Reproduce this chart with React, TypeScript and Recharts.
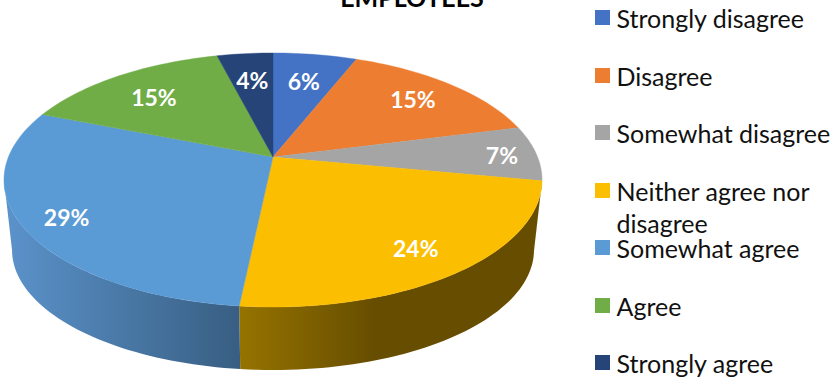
import React from 'react';
import { PieChart, Pie, Cell, Legend } from 'recharts';

const categories = ['Strongly disagree', 'Disagree', 'Somewhat disagree', 'Neither agree nor disagree', 'Somewhat agree', 'Agree', 'Strongly agree'];
const shares = [6, 15, 7, 23.67, 29.33, 15, 4];
const colors = ['#4472C4', '#ED7D31', '#A5A5A5', '#FBBE00', '#5B9BD5', '#70AD47', '#264478'];
const wallStops = [
  ['#2F5597', '#2F5597'],
  ['#A0551F', '#A0551F'],
  ['#6E6E6E', '#6E6E6E'],
  ['#967300', '#664D00'],
  ['#5B93CB', '#385E82'],
  ['#4A7530', '#4A7530'],
  ['#19305A', '#19305A'],
];
const wallMidOffset = ['100%', '100%', '100%', '45%', '100%', '100%', '100%'];
const labelRadii = [0.7, 0.77, 0.87, 0.8, 0.84, 0.75, 0.7];
const labelDy = [0, 0, 2, 3, 3, 4, 0];
const rows = categories.map((name, i) => ({ name, value: shares[i], label: `${Math.round(shares[i])}%` }));

const W = 832;
const H = 377;
const CX = 273;
const CY = 157;
const R = 270;
const TILT_K = 0.181;
const SCALE_X = 0.98;
const SCALE_Y = 0.455;
const WALL_SX = 0.97;
const WALL_SY = 0.945;
const WALL_BASE = 250;
const WIDE_Y = 180;
const SILHOUETTE = (Math.acos(-TILT_K) * 180) / Math.PI;

function project(deg: number, r = 1, cx = CX, cy = CY) {
  const t = (deg * Math.PI) / 180;
  const u = Math.sin(t) * r;
  const v = -Math.cos(t) * r;
  const w = 1 - TILT_K * v;
  return { x: cx + (R * SCALE_X * u) / w, y: cy + (R * SCALE_Y * v) / w };
}

function lower(p: { x: number; y: number }) {
  return { x: CX + (p.x - CX) * WALL_SX, y: WALL_BASE + (p.y - WIDE_Y) * WALL_SY };
}

function rimAngles(a: number, b: number) {
  const n = Math.max(2, Math.ceil(Math.abs(b - a) / 1.5));
  return Array.from({ length: n + 1 }, (_, i) => a + ((b - a) * i) / n);
}

const toPath = (pts: { x: number; y: number }[]) =>
  pts.map((p, i) => `${i ? 'L' : 'M'}${p.x.toFixed(2)},${p.y.toFixed(2)}`).join(' ') + ' Z';

function TopSlice(props: any) {
  const a = 90 - props.startAngle;
  const b = 90 - props.endAngle;
  const pts = [{ x: props.cx, y: props.cy }, ...rimAngles(a, b).map((d) => project(d, 1, props.cx, props.cy))];
  return <path d={toPath(pts)} fill={props.fill} stroke={props.fill} strokeWidth={0.4} />;
}

function WallSlice(props: any) {
  const a = Math.max(90 - props.startAngle, SILHOUETTE);
  const b = Math.min(90 - props.endAngle, 360 - SILHOUETTE);
  if (b <= a) return <g />;
  const top = rimAngles(a, b).map((d) => project(d, 1, props.cx, props.cy));
  const pts = [...top, ...top.slice().reverse().map(lower)];
  return <path d={toPath(pts)} fill={`url(#wall-${props.index})`} />;
}

function SliceLabel(props: any) {
  const i = props.index;
  const a = 90 - props.midAngle;
  const p = project(a, labelRadii[i], props.cx, props.cy);
  return (
    <text x={p.x} y={p.y + labelDy[i]} dy="0.35em" textAnchor="middle" fill="#FFFFFF" fontFamily="Lato" fontWeight={700} fontSize={23}>
      {rows[i].label}
    </text>
  );
}

function LegendList(props: any) {
  const items = (props.payload || []).filter((it: any) => colors.includes(it.color));
  return (
    <div style={{ position: 'relative', width: 236, height: H, fontFamily: 'Lato', fontSize: 25, color: '#111', lineHeight: '32px' }}>
      {items.map((it: any, i: number) => (
        <div key={it.value} style={{ position: 'absolute', left: 0, top: 2 + i * 57.5, width: 236 }}>
          <span style={{ position: 'absolute', left: 0, top: 8, width: 15, height: 15, background: it.color }} />
          <span style={{ position: 'absolute', left: 21.5, top: 0, width: 214, display: 'block' }}>{it.value}</span>
        </div>
      ))}
    </div>
  );
}

export default function App() {
  return (
    <div style={{ position: 'absolute', left: 0, top: 0, width: W, height: H, overflow: 'hidden', background: '#fff' }}>
      <PieChart width={W} height={H} margin={{ top: 0, right: 0, bottom: 0, left: 0 }}>
        <defs>
          {wallStops.map((s, i) => (
            <linearGradient key={i} id={`wall-${i}`} x1="0" y1="0" x2="1" y2="0">
              <stop offset="0%" stopColor={s[0]} />
              <stop offset={wallMidOffset[i]} stopColor={s[1]} />
            </linearGradient>
          ))}
        </defs>
        <text x={412} y={7} textAnchor="middle" fontFamily="Lato" fontWeight={700} fontSize={25} fill="#000">EMPLOYEES</text>
        <Pie
          data={rows} dataKey="value" nameKey="name" cx={CX} cy={CY} outerRadius={R}
          startAngle={90} endAngle={-270} stroke="none" isAnimationActive={false}
          shape={WallSlice} legendType="none"
        />
        <Pie
          data={rows} dataKey="value" nameKey="name" cx={CX} cy={CY} outerRadius={R}
          startAngle={90} endAngle={-270} stroke="none" isAnimationActive={false}
          shape={TopSlice} labelLine={false} label={SliceLabel}
        >
          {rows.map((r, i) => <Cell key={r.name} fill={colors[i]} />)}
        </Pie>
        <Legend layout="vertical" align="right" verticalAlign="top" itemSorter={null} wrapperStyle={{ left: 595, right: 'auto', top: 0, width: 236 }} content={LegendList} />
      </PieChart>
    </div>
  );
}
